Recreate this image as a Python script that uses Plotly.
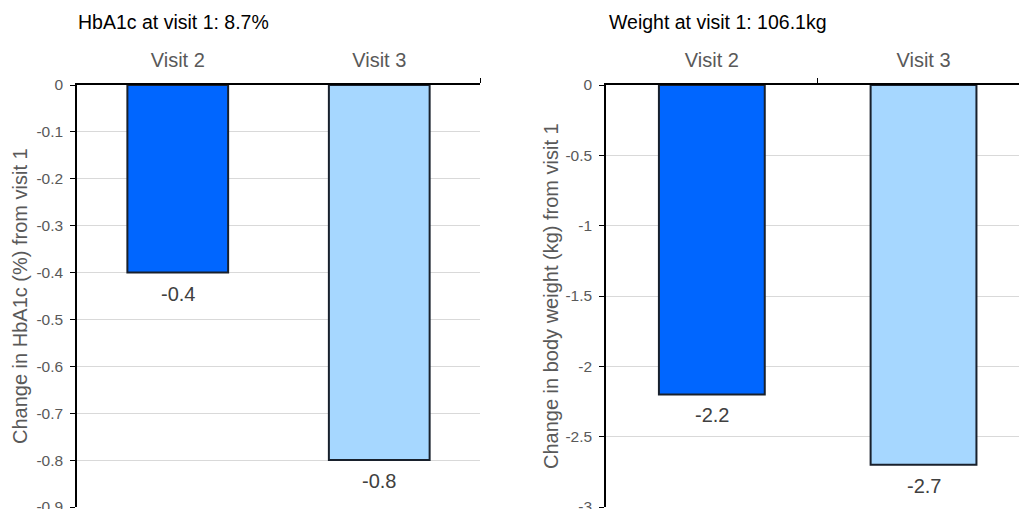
import plotly.graph_objects as go

# ---- data ----
categories = ["Visit 2", "Visit 3"]
hba1c_change = [-0.4, -0.8]
weight_change = [-2.2, -2.7]
bar_colors = ["#0066FF", "#A6D7FF"]

hba1c_title = "HbA1c at visit 1: 8.7%"
weight_title = "Weight at visit 1: 106.1kg"
hba1c_ytitle = "Change in HbA1c (%) from visit 1"
weight_ytitle = "Change in body weight (kg) from visit 1"

hba1c_ticks = [0, -0.1, -0.2, -0.3, -0.4, -0.5, -0.6, -0.7, -0.8, -0.9]
hba1c_ticktext = ["0", "-0.1", "-0.2", "-0.3", "-0.4", "-0.5", "-0.6", "-0.7", "-0.8", "-0.9"]
weight_ticks = [0, -0.5, -1, -1.5, -2, -2.5, -3]
weight_ticktext = ["0", "-0.5", "-1", "-1.5", "-2", "-2.5", "-3"]

W, H = 1019, 509
FONT = "Liberation Sans, Arial, sans-serif"
GRAY = "#595959"

x_pos = list(range(len(categories)))

fig = go.Figure()
for vals, xa, ya in [(hba1c_change, "x", "y"), (weight_change, "x2", "y2")]:
    fig.add_trace(go.Bar(
        x=x_pos, y=vals, width=0.5, xaxis=xa, yaxis=ya,
        marker=dict(color=bar_colors, line=dict(color="#18202c", width=2)),
        showlegend=False, hoverinfo="skip",
    ))

ydom = [1 - 507 / H, 1 - 85 / H]

common_x = dict(
    side="top", tickmode="array", tickvals=x_pos, ticktext=categories,
    tickfont=dict(family=FONT, size=20, color=GRAY), ticks="",
    showline=True, linecolor="black", linewidth=1.5, showgrid=False,
    zeroline=False, automargin=False, ticklabelstandoff=8,
)
common_y = dict(
    tickmode="array", ticks="outside", ticklen=5, tickcolor="black", tickwidth=1.2,
    tickfont=dict(family=FONT, size=15.5, color=GRAY),
    showline=True, linecolor="black", linewidth=1.5,
    showgrid=True, gridcolor="#D9D9D9", gridwidth=1,
    zeroline=False, automargin=False, domain=ydom,
    ticklabelstandoff=4, ticklabeloverflow="allow",
)

fig.update_layout(
    width=W, height=H,
    margin=dict(l=0, r=0, t=0, b=0),
    paper_bgcolor="white", plot_bgcolor="white",
    xaxis=dict(domain=[77 / W, 480 / W], range=[-0.5, 1.5], anchor="y",
               minor=dict(tickmode="array", tickvals=[1.5], ticks="outside",
                          ticklen=5, tickcolor="black", tickwidth=1.2),
               **common_x),
    yaxis=dict(range=[-0.9, 0], tickvals=hba1c_ticks, ticktext=hba1c_ticktext,
               anchor="x", **common_y),
    xaxis2=dict(domain=[606 / W, 1.0], range=[-0.5, 1.451], anchor="y2",
                minor=dict(tickmode="array", tickvals=[0.5], ticks="outside",
                           ticklen=5, tickcolor="black", tickwidth=1.2),
                **common_x),
    yaxis2=dict(range=[-3, 0], tickvals=weight_ticks, ticktext=weight_ticktext,
                anchor="x2", **common_y),
)

ann = []
# chart titles
for txt, xl in [(hba1c_title, 76), (weight_title, 607)]:
    ann.append(dict(text=txt, x=xl / W, y=1 - 22 / H, xref="paper", yref="paper",
                    xanchor="left", yanchor="middle", showarrow=False,
                    font=dict(family=FONT, size=19.5, color="black")))
# y-axis titles
for txt, xc in [(hba1c_ytitle, 20), (weight_ytitle, 551)]:
    ann.append(dict(text=txt, x=xc / W, y=(ydom[0] + ydom[1]) / 2, xref="paper", yref="paper",
                    xanchor="center", yanchor="middle", textangle=-90, showarrow=False,
                    font=dict(family=FONT, size=20, color=GRAY)))
# data labels
for vals, xr, yr in [(hba1c_change, "x", "y"), (weight_change, "x2", "y2")]:
    for xi, v in zip(x_pos, vals):
        ann.append(dict(text=str(v), x=xi, y=v, xref=xr, yref=yr,
                        xanchor="center", yanchor="middle", yshift=-21, showarrow=False,
                        font=dict(family=FONT, size=20, color="#404040")))
fig.update_layout(annotations=ann)

fig.write_html("out.html")
